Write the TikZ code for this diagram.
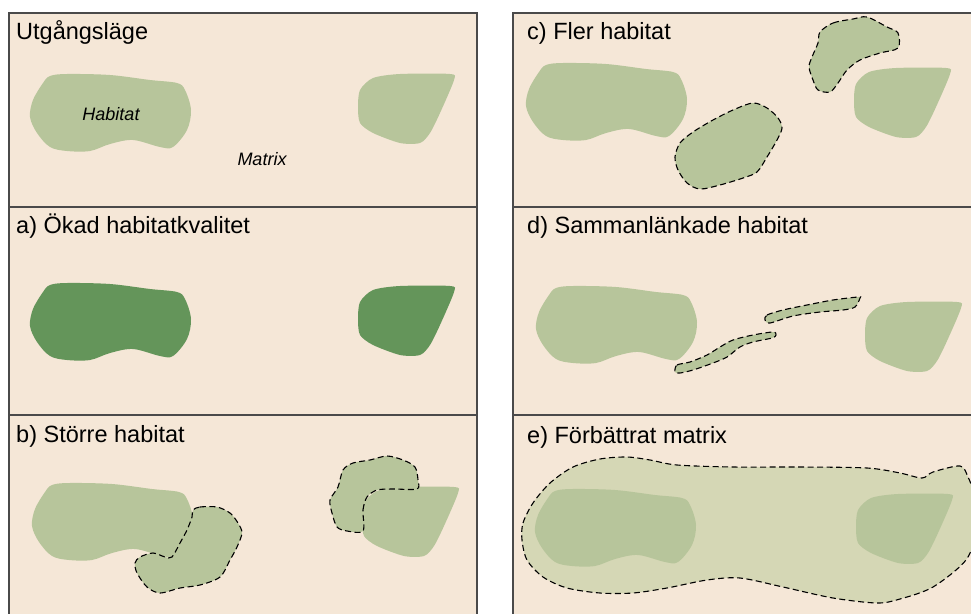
\documentclass[tikz,border=0pt]{standalone}
\usepackage{fontspec}
\setmainfont{Liberation Sans}
\definecolor{Ground}{HTML}{F5E7D7}
\definecolor{Patch}{HTML}{B7C59B}
\definecolor{PatchDark}{HTML}{64955A}
\definecolor{MatrixFill}{HTML}{D5D7B5}
\definecolor{Frame}{HTML}{4A4A4A}
\tikzset{
  panel/.style={fill=Ground,draw=Frame,line width=1.5pt},
  patch/.style={fill=Patch},
  newpatch/.style={fill=Patch,draw=black,line width=1.1pt,dash pattern=on 6pt off 3.5pt},
  ttl/.style={anchor=base west,inner sep=0pt,font=\fontsize{23.5}{26}\selectfont},
  lbl/.style={inner sep=0pt,font=\fontsize{18}{20}\selectfont\itshape},
}
\newcommand{\bigpatch}{plot[smooth cycle,tension=.55] coordinates {(50,76) (67,74) (110,75) (150,80) (177,83) (185,90) (191,110) (187,130) (173,147) (160,147) (133,140) (110,144) (90,151) (67,151) (50,147) (37,133) (30,117) (33,100) (43,83)}}
\newcommand{\smallpatch}{plot[smooth cycle,tension=.45] coordinates {(358,107) (360,90) (373,78) (400,74) (450,74) (454,80) (440,113) (430,133) (420,143) (400,143) (373,133) (360,123)}}

\begin{document}
\begin{tikzpicture}[x=1pt,y=-1pt]
\useasboundingbox (0,0) rectangle (971,613);
\clip (0,0) rectangle (971,613);
\foreach \xa/\xb in {9/477,513/985}
  \foreach \ya/\yb in {13/207,207/415,415/625}
    \draw[panel] (\xa,\ya) rectangle (\xb,\yb);

% Utgångsläge
\fill[patch] \bigpatch;
\fill[patch] \smallpatch;
% a)
\fill[PatchDark,shift={(0,209)}] \bigpatch;
\fill[PatchDark,shift={(0,212)}] \smallpatch;
% b)
\fill[patch,shift={(2,409)}] \bigpatch;
\fill[patch,shift={(4,413)}] \smallpatch;
\draw[newpatch] plot[smooth cycle,tension=.5] coordinates {(193,510) (200,507) (217,507) (230,513) (238,523) (242,533) (237,547) (230,560) (220,577) (200,585) (180,588) (160,593) (147,587) (137,573) (135,563) (140,557) (153,553) (165,557) (172,557) (180,543) (187,530) (192,517)};
\draw[newpatch] plot[smooth cycle,tension=.5] coordinates {(363,531) (363,510) (367,497) (377,490) (393,489) (417,489) (418,480) (415,467) (403,460) (387,456) (370,460) (353,463) (343,470) (338,487) (330,500) (332,513) (337,527) (347,531)};
% c)
\fill[patch,shift={(496,-11)}] \bigpatch;
\fill[patch,shift={(496,-6)}] \smallpatch;
\draw[newpatch] plot[smooth cycle,tension=.5] coordinates {(675,157) (680,143) (693,132) (713,120) (733,110) (753,103) (767,108) (778,118) (782,128) (777,140) (767,157) (757,172) (743,178) (720,185) (700,189) (687,183) (678,170)};
\draw[newpatch] plot[smooth cycle,tension=.5] coordinates {(820,32) (833,23) (853,19) (867,17) (887,27) (898,33) (898,48) (880,53) (860,60) (847,70) (838,83) (830,92) (818,90) (813,80) (809,67) (812,57) (818,43)};
% d)
\fill[patch,shift={(506,212)}] \bigpatch;
\fill[patch,shift={(507,228)}] \smallpatch;
\draw[newpatch] plot[smooth cycle,tension=.5] coordinates {(675,372) (677,365) (690,362) (707,355) (720,347) (733,340) (753,335) (773,332) (776,335) (772,338) (753,342) (740,347) (727,357) (713,363) (693,370) (680,373)};
\draw[newpatch] plot[smooth cycle,tension=.5] coordinates {(765,320) (767,315) (783,310) (807,305) (833,300) (858,297) (860,298) (855,307) (843,310) (820,312) (793,316) (770,323)};
% e)
\draw[newpatch,fill=MatrixFill] plot[smooth cycle,tension=.5] coordinates {(522,540) (523,523) (533,503) (550,483) (573,467) (600,459) (627,457) (650,460) (677,465) (733,467) (800,467) (867,468) (900,473) (922,478) (933,472) (960,466) (968,477) (974,495) (976,530) (966,560) (933,587) (900,599) (877,603) (833,598) (783,587) (740,578) (707,580) (667,588) (633,593) (600,593) (567,588) (543,577) (527,560)};
\fill[patch,shift={(505,415)}] \bigpatch;
\fill[patch,shift={(498,420)}] \smallpatch;

\node[ttl] (t0) at (16,39) {Utgångsläge};
\node[ttl] (ta) at (16,233) {a) Ökad habitatkvalitet};
\node[ttl] (tb) at (16,442) {b) Större habitat};
\node[ttl] (tc) at (527,39) {c) Fler habitat};
\node[ttl] (td) at (527,233) {d) Sammanlänkade habitat};
\node[ttl] (te) at (527,443) {e) Förbättrat matrix};
\node[lbl] (hab) at (111,114) {Habitat};
\node[lbl] (mat) at (262,159) {Matrix};
\end{tikzpicture}
\end{document}
